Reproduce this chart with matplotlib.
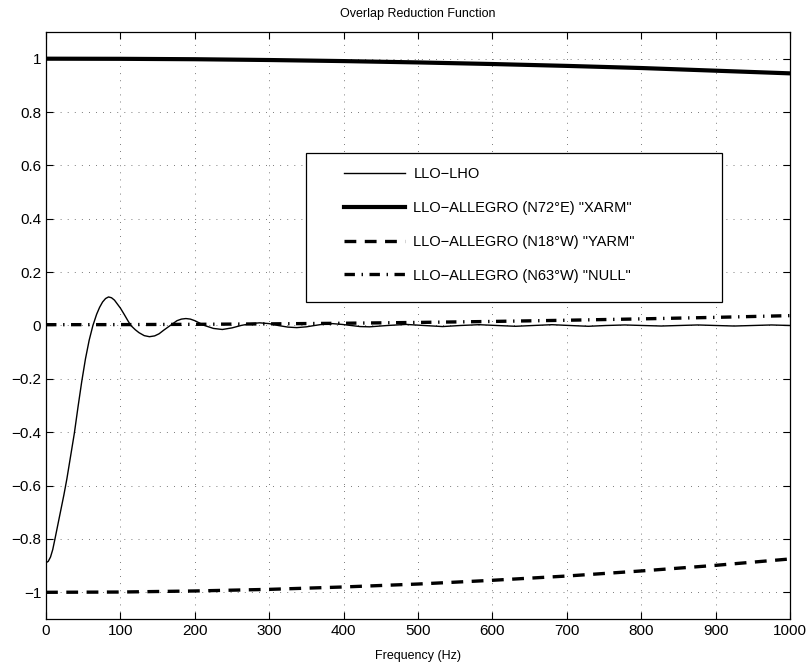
import numpy as np
import matplotlib.pyplot as plt
from matplotlib.patches import Rectangle
from matplotlib.ticker import FuncFormatter

plt.rcParams['font.family'] = ['Liberation Sans', 'DejaVu Sans']
plt.rcParams['lines.scale_dashes'] = False

# values
lho_freq = [0, 3, 6, 9, 12, 16, 20, 24, 28, 33, 38, 43, 48, 53, 58, 63, 68, 72, 76, 80,
            84, 88, 92, 96, 100, 105, 110, 114, 120, 125, 132, 139, 146, 152, 158,
            167, 176, 182, 188, 194, 200, 213, 225, 237, 250, 262, 275, 287, 300,
            312, 325, 337, 350, 361, 373, 385, 398, 410, 422, 435, 459, 484, 508,
            533, 557, 582, 606, 631, 655, 680, 704, 729, 753, 778, 802, 827, 851,
            876, 900, 925, 950, 975, 1000]
lho_orf = [-0.889, -0.884, -0.868, -0.840, -0.800, -0.745, -0.690, -0.635, -0.575,
           -0.490, -0.405, -0.305, -0.210, -0.125, -0.055, 0.0, 0.042, 0.068,
           0.088, 0.101, 0.107, 0.104, 0.095, 0.080, 0.065, 0.042, 0.018, 0.0,
           -0.016, -0.027, -0.038, -0.042, -0.039, -0.031, -0.018, 0.0, 0.018,
           0.024, 0.026, 0.024, 0.018, 0.0, -0.011, -0.015, -0.009, 0.0, 0.007,
           0.010, 0.007, 0.0, -0.006, -0.008, -0.005, 0.0, 0.005, 0.007, 0.004,
           0.0, -0.004, -0.005, 0.0, 0.004, 0.0, -0.004, 0.0, 0.003, 0.0, -0.003,
           0.0, 0.003, 0.0, -0.003, 0.0, 0.002, 0.0, -0.002, 0.0, 0.002, 0.0,
           -0.002, 0.0, 0.002, 0.0]

arm_freq = [0, 100, 200, 300, 400, 500, 600, 700, 800, 900, 1000]
xarm_orf = [1.0, 0.9995, 0.998, 0.995, 0.991, 0.986, 0.980, 0.973, 0.965, 0.955, 0.945]
yarm_orf = [-1.0, -0.999, -0.995, -0.989, -0.980, -0.969, -0.955, -0.939, -0.920, -0.899, -0.875]
null_orf = [0.003, 0.0033, 0.0044, 0.0061, 0.0084, 0.0115, 0.0152, 0.0197, 0.0248, 0.0305, 0.037]

labels = ['LLO\u2212LHO',
          'LLO\u2212ALLEGRO (N72\u00b0E) "XARM"',
          'LLO\u2212ALLEGRO (N18\u00b0W) "YARM"',
          'LLO\u2212ALLEGRO (N63\u00b0W) "NULL"']

fig = plt.figure(figsize=(8.09, 6.64), dpi=100)
ax = fig.add_axes([0.0569, 0.0678, 0.9196, 0.884])

ax.plot(lho_freq, lho_orf, color='k', lw=1.0, label=labels[0])
ax.plot(arm_freq, xarm_orf, color='k', lw=3.0, label=labels[1])
ax.plot(arm_freq, yarm_orf, color='k', lw=2.4, dashes=(8.5, 6.1), label=labels[2])
ax.plot(arm_freq, null_orf, color='k', lw=2.4, dashes=(7.5, 4.8, 1.0, 4.7), label=labels[3])

ax.set_xlim(0, 1000)
ax.set_ylim(-1.1, 1.1)
ax.set_xticks(np.arange(0, 1001, 100))
ax.set_yticks(np.arange(-1, 1.01, 0.2))
ax.yaxis.set_major_formatter(FuncFormatter(lambda v, p: ('%g' % (round(v, 2) + 0.0)).replace('-', '\u2212')))
ax.tick_params(direction='in', length=5, width=0.8, top=True, right=True, labelsize=11, pad=3.5)
ax.grid(True, color='0.3', lw=0.6, linestyle=(0, (0.6, 4.5)))
for s in ax.spines.values():
    s.set_linewidth(0.9)

ax.set_title('Overlap Reduction Function', fontsize=9, pad=11)
ax.set_xlabel('Frequency (Hz)', fontsize=9, labelpad=9)

ax.add_patch(Rectangle((0.349, 0.540), 0.560, 0.254, transform=ax.transAxes,
                       facecolor='white', edgecolor='k', lw=0.9, zorder=5))
leg = ax.legend(loc='upper left', bbox_to_anchor=(0.4005, 0.770), frameon=False,
                fontsize=10.5, handlelength=4.2, handletextpad=0.55, labelspacing=1.36,
                borderpad=0, borderaxespad=0)
leg.set_zorder(6)

fig.savefig('out.png', dpi=100)
